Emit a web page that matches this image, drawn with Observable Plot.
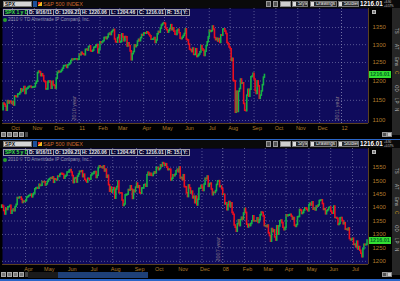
<!DOCTYPE html>
<html><head><meta charset="utf-8">
<script src="https://cdn.jsdelivr.net/npm/d3@7"></script>
<script src="https://cdn.jsdelivr.net/npm/@observablehq/plot@0.6"></script>
<style>
html,body{margin:0;padding:0;background:#000;}
body{width:400px;height:281px;overflow:hidden;position:relative;font-family:"Liberation Sans",Arial,sans-serif;}
</style></head><body>
<script>
// ---------- DATA (daily closes, S&P 500) ----------
const topCloses = [
1142,1139,1134,1124,1148, 1142,1147,1145,1141,1146, 1137,1160,1159,1158,1165, 1165,1169,1178,1173,1176,
1184,1166,1178,1180,1183, 1185,1185,1182,1183,1183, 1184,1193,1198,1221,1225, 1223,1213,1218,1213,1199,
1197,1178,1178,1196,1199, 1197,1180,1198,1189, 1187,1180,1206,1221,1225, 1223,1224,1228,1233,1240,
1240,1241,1235,1242,1244, 1247,1254,1258,1257, 1258,1259,1259,1257,1258, 1271,1270,1277,1273,1272,
1270,1285,1286,1283,1293, 1295,1281,1280,1283, 1291,1292,1296,1299,1276, 1286,1307,1304,1307,1310,
1319,1320,1316,1321,1329, 1332,1328,1336,1340,1343, 1315,1307,1306,1319, 1327,1306,1308,1330,1321,
1310,1322,1321,1295,1304, 1296,1281,1256,1273,1279, 1298,1293,1297,1309,1314, 1310,1319,1328,1326,1332,
1333,1332,1336,1333,1328, 1324,1314,1314,1315,1319, 1305,1312,1330,1337, 1335,1347,1356,1360,1363,
1361,1347,1342,1335,1340, 1346,1357,1342,1348,1338, 1329,1328,1340,1343,1333, 1317,1316,1320,1325,1331,
1345,1314,1312,1300, 1286,1284,1279,1289,1271, 1271,1287,1265,1268,1272, 1278,1296,1287,1283,1268,
1280,1296,1307,1321,1340, 1337,1339,1353,1344, 1319,1313,1317,1309,1316, 1305,1327,1326,1344,1345,
1338,1331,1305,1301,1292, 1287,1254,1260,1200,1199, 1119,1172,1121,1172,1179, 1204,1193,1194,1141,1124,
1123,1162,1177,1159,1177, 1210,1212,1219,1204,1174, 1166,1199,1186,1154, 1162,1173,1189,1209,1216.01
];
const topPrevClose = 1125;
const topStart = "2010-09-20";
const topEnd = "2012-01-20";
const topHolidays = ["2010-11-25","2010-12-24","2011-01-17","2011-02-21","2011-04-22","2011-05-30","2011-07-04","2011-09-05","2011-11-24","2011-12-26","2012-01-02"];
const topMonthLabels = ["Oct","Nov","Dec","11","Feb","Mar","Apr","May","Jun","Jul","Aug","Sep","Oct","Nov","Dec","12"];
const topPriceTicks = [1100,1150,1200,1250,1300,1350];
const topYearMarks = ["2010 year","2011 year"];

const botCloses = [
1407, 1403,1387, 1374,1395,1391,1401,1402, 1406,1377,1387,1392,1386, 1402,1410,1435,1434,1437, 1437,1429,1417,1422,1421,
1424,1437,1439,1443, 1444,1448,1438,1447,1452, 1468,1471,1472,1470,1484, 1480,1481,1495,1494,1494,
1482,1486,1495,1502,1505, 1509,1507,1512,1492,1505, 1503,1501,1515,1514,1522, 1525,1524,1522,1507,1515,
1518,1530,1530,1536, 1539,1530,1517,1491,1507, 1509,1493,1515,1523,1533, 1532,1535,1513,1522,1503,
1498,1493,1507,1506,1503, 1519,1524,1525,1531, 1532,1510,1518,1547,1553, 1549,1549,1546,1553,1534,
1541,1511,1518,1483,1459, 1474,1455,1465,1472,1433, 1467,1476,1497,1453,1453, 1452,1426,1406,1411,1445,
1446,1448,1465,1463,1479, 1466,1432,1463,1457,1474, 1489,1473,1479,1453, 1451,1471,1471,1483,1484,
1477,1520,1529,1519,1525, 1518,1517,1525,1531,1527, 1547,1547,1539,1543,1557, 1552,1565,1562,1555,1561,
1548,1539,1541,1540,1501, 1507,1520,1516,1522,1535, 1540,1531,1549,1509,1510, 1502,1520,1476,1475,1453,
1439,1482,1471,1452,1459, 1434,1440,1416,1440, 1408,1429,1470,1470,1481, 1473,1462,1485,1507,1505,
1515,1477,1486,1489,1467, 1446,1455,1454,1461,1484, 1497,1498,1476,1478, 1468,
1447,1447,1411, 1416,1390,1409,1420,1401, 1416,1380,1373,1333,1325, 1310,1338,1352,1331, 1353,1362,1355,1378,1395,
1380,1336,1326,1336,1331, 1339,1349,1367,1349,1349, 1348,1360,1343,1353, 1371,1381,1380,1367,1331,
1331,1327,1333,1304,1294, 1273,1320,1309,1315,1289, 1277,1330,1299,1330, 1349,1352,1342,1325,1316,
1323,1371,1368,1370,1371, 1373,1366,1355,1361,1332, 1328,1335,1364,1365,1391, 1388,1376,1380,1389,1397,
1396,1391,1386,1409,1414, 1408,1419,1392,1397,1389, 1404,1403,1408,1424,1426, 1427,1413,1391,1394,1375,
1386,1390,1398,1400, 1385,1378,1377,1404,1361, 1361,1358,1335,1339,1360, 1361,1350,1338,1342,1318,
1318,1315,1322,1283,1278, 1280,1284,1261,1262, 1252,1273,1244,1253,1239, 1228,1215,1245,1261,1260, 1261,1277
];
const botPrevClose = 1399;
const botStart = "2007-02-28";
const botEnd = "2008-07-25";
const botHolidays = ["2007-04-06","2007-05-28","2007-07-04","2007-09-03","2007-11-22","2007-12-25","2008-01-01","2008-01-21","2008-02-18","2008-03-21","2008-05-26","2008-07-04"];
const botMonthLabels = ["Apr","May","Jun","Jul","Aug","Sep","Oct","Nov","Dec","08","Feb","Mar","Apr","May","Jun","Jul"];
const botPriceTicks = [1200,1250,1300,1350,1400,1450,1500,1550];
const botYearMarks = ["2007 year"];

const quoteFields = ["D: 9/16/11","O: 1209.21","H: 1220.06","L: 1204.46","C: 1216.01","R: 15.6","Y:"];
const lastPrice = "1216.01";
const lastChange = ["+6.90","+0.57%"];

// ---------- STYLE ----------
const NAVY = "#0f0b5c", GRID = "#6a6aa0", GREEN = "#16b246", RED = "#ec0f1f", AXIS = "#b07c2c", BORDER = "#5a4020";

function tradingDays(start, end, holidays) {
  const hs = new Set(holidays), out = [];
  for (let d = new Date(start + "T00:00:00Z"); d <= new Date(end + "T00:00:00Z"); d.setUTCDate(d.getUTCDate() + 1)) {
    const w = d.getUTCDay(), s = d.toISOString().slice(0, 10);
    if (w === 0 || w === 6 || hs.has(s)) continue;
    out.push(s);
  }
  return out;
}

function box(l, t, w, h, style = {}, text = "") {
  const d = document.createElement("div");
  Object.assign(d.style, {position: "absolute", left: l + "px", top: t + "px", width: w + "px", height: h + "px",
    boxSizing: "border-box", overflow: "hidden", whiteSpace: "nowrap"}, style);
  d.textContent = text;
  document.body.appendChild(d);
  return d;
}

function panel(cfg) {
  const T = cfg.top;
  const days = tradingDays(cfg.start, cfg.end, cfg.holidays);
  const rows = cfg.closes.map((c, i) => ({i, open: i ? cfg.closes[i - 1] : cfg.prev, close: c}));
  const months = [];
  days.forEach((d, i) => {
    if (i > 0 && d.slice(0, 7) !== days[i - 1].slice(0, 7) && d.slice(0, 7) >= cfg.firstMonth) months.push({i, ym: d.slice(0, 7)});
  });
  months.forEach((m, k) => m.label = cfg.labels[k]);
  const years = months.filter(m => m.ym.endsWith("-01"));
  years.forEach((m, k) => m.text = cfg.years[k]);
  const i1 = months[0].i, i2 = months[months.length - 1].i;
  const k = (cfg.anchors[1] - cfg.anchors[0]) / (i2 - i1);
  const xDomain = [i1 + (2 - cfg.anchors[0]) / k, i1 + (368 - cfg.anchors[0]) / k];
  const plotH = cfg.plotH;
  const chart = Plot.plot({
    width: 392, height: plotH + 11,
    marginLeft: 2, marginRight: 24, marginTop: 0, marginBottom: 11,
    x: {domain: xDomain, axis: null},
    y: {type: cfg.yType, domain: cfg.yDomain, axis: null},
    style: {background: "#000", fontFamily: "Liberation Sans, Arial, sans-serif"},
    marks: [
      Plot.frame({fill: NAVY, stroke: null}),
      Plot.ruleY(cfg.ticks, {stroke: GRID, strokeDasharray: "1,2", strokeWidth: 0.8}),
      Plot.ruleX(months, {x: "i", stroke: d => d.ym.endsWith("-01") ? "#8a8ab8" : GRID, strokeDasharray: "1,2", strokeWidth: 0.8}),
      Plot.ruleX(rows, {x: "i", y1: "open", y2: "close", stroke: d => d.close >= d.open ? GREEN : RED, strokeWidth: 1.6, strokeLinecap: "square"}),
      Plot.text(years, {x: "i", text: "text", rotate: -90, frameAnchor: "bottom", textAnchor: "start", dx: -3, dy: -3, fill: "#8a7a8a", fontSize: 5.5}),
      Plot.ruleY([cfg.yDomain[0]], {stroke: BORDER}),
      Plot.ruleX([xDomain[1]], {stroke: BORDER}),
      Plot.text(cfg.ticks, {y: d => d, text: d => String(d), frameAnchor: "right", textAnchor: "start", dx: 4, fill: AXIS, fontSize: 6}),
      Plot.text(months, {x: "i", text: "label", frameAnchor: "bottom", dy: 4.5, dx: 3, fill: AXIS, fontSize: 5.5, lineAnchor: "middle"})
    ]
  });
  Object.assign(chart.style, {position: "absolute", left: "0px", top: (T + 8) + "px"});
  document.body.appendChild(chart);

  // last price marker
  const yLast = chart.scale("y").apply(cfg.closes[cfg.closes.length - 1]);
  box(369, T + 8 + yLast - 3.5, 22, 7, {background: "#33e033", color: "#062", fontSize: "5.5px", fontWeight: "bold", lineHeight: "7px", textAlign: "center"}, lastPrice);

  // toolbar
  box(0, T, 400, 8, {background: "#0a0a0a"});
  box(3, T + 1, 29, 6, {background: "#d6d6d6", border: "1px solid #777", color: "#111", fontSize: "5px", lineHeight: "4px", paddingLeft: "1px", fontWeight: "bold"}, "SPX");
  box(33, T + 1, 4, 6, {background: "#1d4f9a"});
  box(38, T + 2, 4, 4, {background: "linear-gradient(135deg,#e03020 0 50%,#f0c020 50%)"});
  box(43, T, 50, 8, {color: "#c8682c", fontSize: "5.5px", lineHeight: "8px"}, "S&P 500 INDEX");
  box(266, T + 1, 5, 6, {background: "#555", border: "1px solid #999"});
  box(273, T + 1, 5, 6, {background: "#555", border: "1px solid #999"});
  box(280, T + 1, 11, 6, {background: "#cfcfcf", border: "1px solid #888"});
  [["Style", 292, 16], ["Drawings", 310, 27], ["Studies", 338, 21]].forEach(([t, x, w]) => {
    box(x, T + 1, w, 6, {background: "#2a2a2a", border: "1px solid #777", color: "#eee", fontSize: "4.6px", lineHeight: "4px", paddingLeft: "5px"}, t);
    box(x + 1, T + 2, 3, 4, {background: "#ddd"});
  });
  box(360, T, 23, 8, {color: "#fff", fontSize: "6.3px", fontWeight: "bold", lineHeight: "8px"}, lastPrice);
  box(384, T, 8, 4, {color: "#ccc", fontSize: "2.8px", lineHeight: "4px", overflow: "visible"}, lastChange[0]);
  box(384, T + 4, 8, 4, {color: "#ccc", fontSize: "2.8px", lineHeight: "4px", overflow: "visible"}, lastChange[1]);

  // quote header row
  const widths = [25, 27, 28, 30, 29, 29, 17, 9];
  const texts = [cfg.symbolLabel, ...quoteFields];
  let x = 3;
  texts.forEach((t, j) => {
    box(x, T + 9, widths[j], 7, {background: "#0a0838", border: "1px solid #9a9aa8", color: j === 0 ? "#40e040" : "#e8e8e8",
      fontSize: "5px", fontWeight: "bold", lineHeight: "5px", paddingLeft: "1px"}, t);
    x += widths[j] - 1;
  });
  box(3, T + 17.5, 4, 4, {background: "#2aa02a", borderRadius: "50%"});
  box(8, T + 17, 100, 5, {color: "#9a9ab0", fontSize: "4.6px", lineHeight: "5px"}, "2010 © TD Ameritrade IP Company, Inc.");
  box(372, T + 10, 4, 4, {background: "#777", border: "1px solid #bbb"});

  // right side tabs
  box(392, T + 8, 8, 127, {background: "#262626"});
  [["TS", 31], ["AT", 47], ["Ems", 61], ["C", 73], ["OD", 88], ["LP", 101], ["N", 110]].forEach(([t, yc]) => {
    box(392, T + yc - 5, 8, 10, {writingMode: "vertical-rl", color: t === "C" ? "#d0a020" : "#bbb", fontSize: "4.5px", lineHeight: "8px", textAlign: "center"}, t);
  });

  // bottom icon row
  [1, 7, 13, 19].forEach(xx => box(xx, T + 132, 5, 5, {background: "#777", border: "1px solid #aaa"}));
  box(25, T + 132, 3, 5, {background: "#444"});
  box(382, T + 132, 5, 5, {background: "#555", border: "1px solid #999"});
  box(387, T + 132, 5, 5, {background: "#ccc", border: "1px solid #888"});
  if (cfg.scroll) {
    box(28, T + 132, 120, 6, {background: "#1a1a1a"});
    box(58, T + 132, 90, 6, {background: "#1e4078"});
  }
  box(0, T + 139, 400, 2, {background: "#2a66c8"});
}

panel({top: 0, closes: topCloses, prev: topPrevClose, start: topStart, end: topEnd, holidays: topHolidays,
  firstMonth: "2010-10", labels: topMonthLabels, years: topYearMarks, anchors: [12, 341],
  plotH: 115, yType: "log", yDomain: [1092.8, 1407.8], ticks: topPriceTicks, symbolLabel: "SPX 1 y D", scroll: false});
panel({top: 140, closes: botCloses, prev: botPrevClose, start: botStart, end: botEnd, holidays: botHolidays,
  firstMonth: "2007-04", labels: botMonthLabels, years: botYearMarks, anchors: [25, 352],
  plotH: 116, yType: "linear", yDomain: [1188.2, 1619.4], ticks: botPriceTicks, symbolLabel: "SPX 5 y D", scroll: true});
</script>
</body></html>
